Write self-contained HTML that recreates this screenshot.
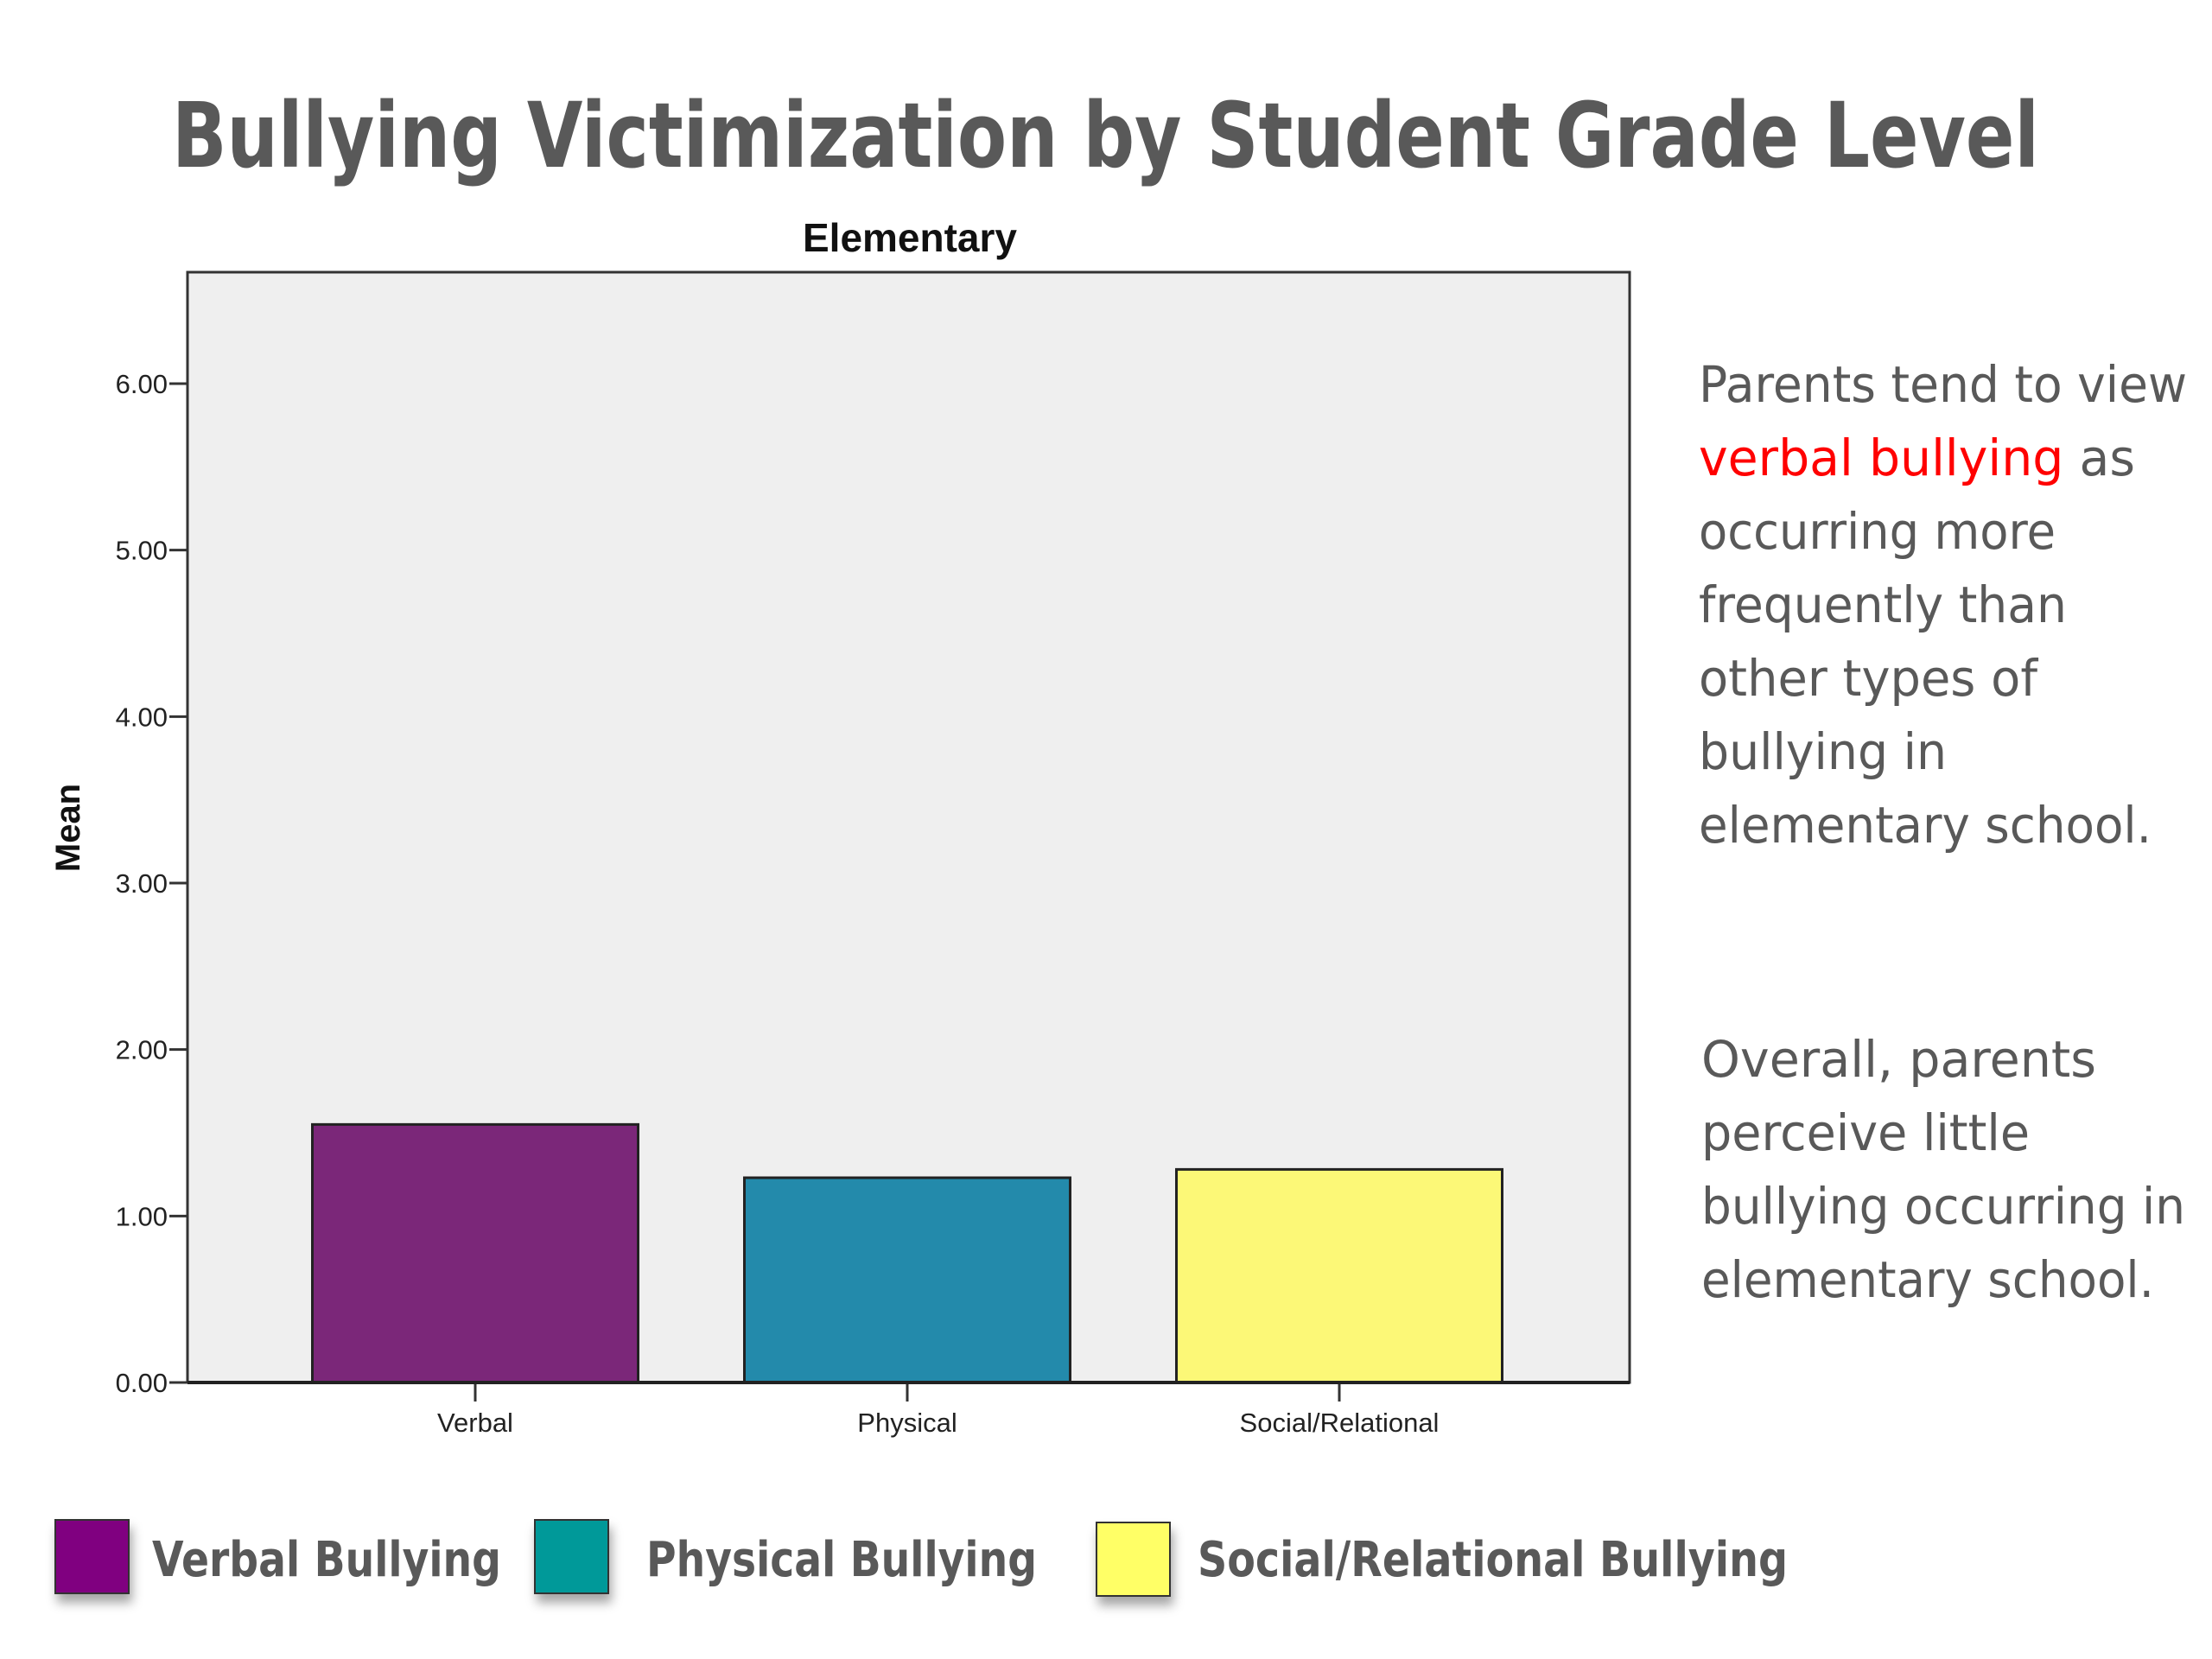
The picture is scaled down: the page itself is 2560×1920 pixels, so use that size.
<!DOCTYPE html>
<html><head><meta charset="utf-8"><style>
html,body{margin:0;padding:0;background:#fff;}
svg{display:block;}
</style></head><body>
<svg id="chart" width="2560" height="1920" viewBox="0 0 2560 1920" xmlns="http://www.w3.org/2000/svg">
  <defs>
    <filter id="sh" x="-20%" y="-20%" width="160%" height="160%"><feDropShadow dx="3" dy="10" stdDeviation="6" flood-color="#000" flood-opacity="0.35"/></filter>
  </defs>
  <text x="199" y="193" font-family="'DejaVu Sans', 'Liberation Sans', sans-serif" font-weight="bold" font-size="104" fill="#595959" textLength="2161" lengthAdjust="spacingAndGlyphs">Bullying Victimization by Student Grade Level</text>
  <text x="1053" y="291" text-anchor="middle" font-family="'Liberation Sans', sans-serif" font-weight="bold" font-size="46" fill="#111">Elementary</text>
  <rect x="217" y="315" width="1669" height="1285" fill="#efefef" stroke="#333" stroke-width="3"/>
  <g id="yaxis"></g>
  <g id="bars"></g>
  <g id="xaxis"></g>
  <text transform="translate(92,958) rotate(-90)" text-anchor="middle" font-family="'Liberation Sans', sans-serif" font-weight="bold" font-size="40" fill="#111">Mean</text>

  <g font-family="'DejaVu Sans', 'Liberation Sans', sans-serif" font-size="58" fill="#595959">
    <text x="1966" y="465" textLength="565" lengthAdjust="spacingAndGlyphs">Parents tend to view</text>
    <text x="1966" y="550" textLength="505" lengthAdjust="spacingAndGlyphs"><tspan fill="#ff0000">verbal bullying</tspan> as</text>
    <text x="1966" y="635" textLength="413" lengthAdjust="spacingAndGlyphs">occurring more</text>
    <text x="1966" y="720" textLength="426" lengthAdjust="spacingAndGlyphs">frequently than</text>
    <text x="1966" y="805" textLength="392" lengthAdjust="spacingAndGlyphs">other types of</text>
    <text x="1966" y="890" textLength="287" lengthAdjust="spacingAndGlyphs">bullying in</text>
    <text x="1966" y="975" textLength="524" lengthAdjust="spacingAndGlyphs">elementary school.</text>
    <text x="1969" y="1246" textLength="457" lengthAdjust="spacingAndGlyphs">Overall, parents</text>
    <text x="1969" y="1331" textLength="380" lengthAdjust="spacingAndGlyphs">perceive little</text>
    <text x="1969" y="1416" textLength="560" lengthAdjust="spacingAndGlyphs">bullying occurring in</text>
    <text x="1969" y="1501" textLength="524" lengthAdjust="spacingAndGlyphs">elementary school.</text>
  </g>

  <g font-family="'DejaVu Sans', 'Liberation Sans', sans-serif" font-weight="bold" font-size="56" fill="#595959">
    <g>
      <rect x="64" y="1759" width="85" height="85" fill="#800080" stroke="#333" stroke-width="2" filter="url(#sh)"/>
      <text x="176" y="1824" textLength="404" lengthAdjust="spacingAndGlyphs">Verbal Bullying</text>
    </g>
    <g>
      <rect x="619" y="1759" width="85" height="85" fill="#009999" stroke="#333" stroke-width="2" filter="url(#sh)"/>
      <text x="748" y="1824" textLength="452" lengthAdjust="spacingAndGlyphs">Physical Bullying</text>
    </g>
    <g>
      <rect x="1269" y="1762" width="85" height="85" fill="#ffff66" stroke="#333" stroke-width="2" filter="url(#sh)"/>
      <text x="1386" y="1824" textLength="683" lengthAdjust="spacingAndGlyphs">Social/Relational Bullying</text>
    </g>
  </g>
</svg>
<script>
const categories = ["Verbal", "Physical", "Social/Relational"];
const meanValues = [1.55, 1.23, 1.28];
const barColors = ["#7b2779", "#238aab", "#fcf877"];
const yTickValues = [0, 1, 2, 3, 4, 5, 6];
const yTickLabels = ["0.00", "1.00", "2.00", "3.00", "4.00", "5.00", "6.00"];

const NS = "http://www.w3.org/2000/svg";
const plotL = 217, plotR = 1886, plotT = 315, plotB = 1600;
const unitPx = (1600 - 444) / 6;
function yScale(v){ return plotB - v * unitPx; }
function xCenter(i){ return plotL + 333 + i * 500; }
const barW = 377;

function mk(tag, attrs, parent){
  const el = document.createElementNS(NS, tag);
  for (const k in attrs) el.setAttribute(k, attrs[k]);
  parent.appendChild(el);
  return el;
}

const yAxis = document.getElementById("yaxis");
yTickValues.forEach((v, i) => {
  const y = yScale(v);
  const t = mk("line", {x1: 196, x2: plotL, y1: y, y2: y, stroke: "#333", "stroke-width": 3}, yAxis);
  
  
  const lab = mk("text", {x: 194, y: y + 11, "text-anchor": "end", "font-family": "'Liberation Sans', sans-serif", "font-size": 31, fill: "#222"}, yAxis);
  lab.textContent = yTickLabels[i];
  
  
});

const barsG = document.getElementById("bars");
const xAxis = document.getElementById("xaxis");
categories.forEach((c, i) => {
  const cx = xCenter(i);
  const top = yScale(meanValues[i]);
  const r = mk("rect", {x: cx - barW / 2, y: top, width: barW, height: plotB - top, fill: barColors[i], stroke: "#222", "stroke-width": 3}, barsG);
  
  
  const tk = mk("line", {x1: cx, x2: cx, y1: plotB, y2: plotB + 22, stroke: "#333", "stroke-width": 3}, xAxis);
  
  
  const lab = mk("text", {x: cx, y: 1657, "text-anchor": "middle", "font-family": "'Liberation Sans', sans-serif", "font-size": 31, fill: "#222"}, xAxis);
  lab.textContent = c;
  
  
});
const base = mk("line", {x1: plotL, x2: plotR, y1: plotB, y2: plotB, stroke: "#222", "stroke-width": 4}, xAxis);


</script>
</body></html>
